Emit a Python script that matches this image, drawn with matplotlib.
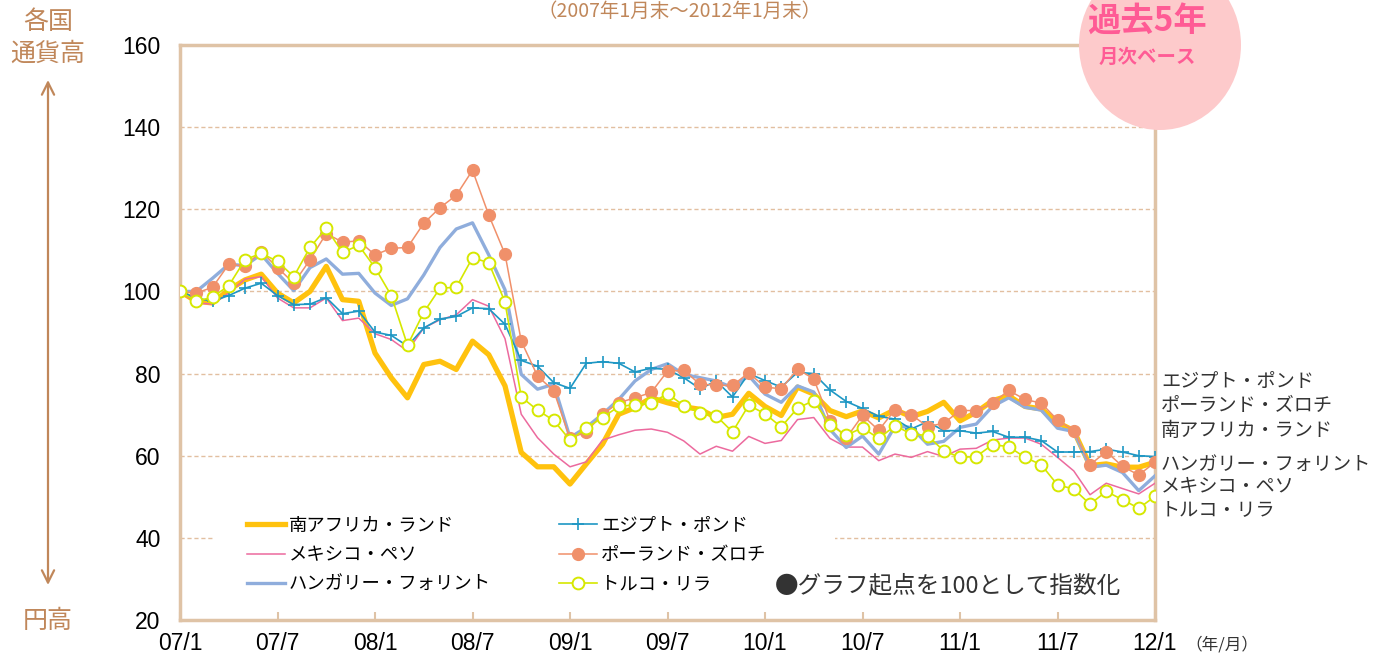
import numpy as np
import matplotlib
matplotlib.use("Agg")
import matplotlib.pyplot as plt
from matplotlib.patches import Ellipse, Rectangle

plt.rcParams['font.family'] = ['Liberation Sans', 'Noto Sans CJK JP', 'DejaVu Sans']
JP = ['Noto Sans CJK JP', 'DejaVu Sans']

# monthly end values, index (2007/1 = 100)
tick_labels = ["07/1", "07/7", "08/1", "08/7", "09/1", "09/7",
               "10/1", "10/7", "11/1", "11/7", "12/1"]

zar = [100, 97.6, 97.2, 100.4, 102.8, 104.2, 99.6, 97.2, 100, 106.1,
       98, 97.6, 85, 79, 74.1, 82.2, 83, 81, 87.9, 84.6,
       77, 60.8, 57.3, 57.3, 53.1, 58, 62.8, 70.1, 71.7, 74.1,
       72.9, 71.9, 71.3, 69.3, 70.1, 75.2, 72, 69.8, 76.7, 75,
       71, 69.5, 70.9, 69.2, 71.2, 69.5, 70.8, 73, 68.5, 70.6,
       73.4, 74.6, 72, 71.4, 68.1, 66.1, 57.6, 58, 57.2, 57.2, 58.4]
mxn = [100, 97.2, 96.9, 99.6, 103, 103.6, 98.4, 96, 96, 98.4,
       92.9, 93.5, 89.7, 88.3, 85.5, 91.1, 93.1, 94.3, 98, 96.4,
       88.5, 70.1, 64.4, 60.4, 57.3, 58.5, 63.8, 65.1, 66.2, 66.5,
       65.7, 63.6, 60.4, 62.3, 61.1, 64.7, 63, 63.7, 68.8, 69.3,
       64.2, 62.1, 62.1, 58.8, 60.4, 59.6, 61, 59.8, 61.6, 61.8,
       63.8, 64.3, 64.3, 62.8, 59.6, 56.3, 50.5, 53.3, 52, 50.7, 53.3]
huf = [100, 100, 103.2, 106.6, 106.3, 109, 104.4, 100.2, 105.8, 107.9,
       104.2, 104.4, 99.6, 96.6, 98.2, 104, 110.7, 115.2, 116.7, 108.9,
       100.4, 79.8, 76.2, 77.4, 64.4, 66.9, 70.1, 73.7, 78.2, 81,
       82.4, 79.8, 79, 78.2, 76.6, 79.5, 75, 73, 77, 75.5,
       66.4, 62, 64.8, 60.4, 67.2, 66.9, 62.8, 63.5, 66.9, 67.7,
       72, 74.1, 71.8, 71.1, 66.7, 65.9, 57.2, 57.7, 55.9, 51.5, 55.1]
egp = [100, 98.4, 97.6, 99, 100.8, 102, 99, 96.8, 96.9, 98.5,
       94.6, 95.2, 90.1, 89.3, 86.7, 91.1, 93.3, 93.9, 96, 95.8,
       92, 83.2, 81.8, 77.8, 76.4, 82.5, 82.9, 82.5, 80.4, 81.3,
       81, 79, 76.3, 78.2, 74.3, 80, 78.3, 76.7, 80.3, 80,
       76, 73.2, 71.5, 69.6, 68.9, 66.5, 68.3, 66.1, 66.1, 65.5,
       65.9, 64.5, 64.5, 63.7, 60.9, 60.9, 61, 61.6, 60.9, 60, 59.8]
pln = [100, 99.6, 101, 106.6, 106.2, 109.7, 105.8, 102, 107.7, 114.1,
       112, 112.3, 108.9, 110.5, 110.7, 116.6, 120.4, 123.4, 129.5, 118.6,
       109.1, 87.9, 79.4, 75.8, 64.2, 65.8, 70.1, 72.9, 74.1, 75.4,
       80.6, 80.8, 77.4, 77.2, 77.1, 80.2, 76.7, 76.3, 81.1, 78.7,
       68.5, 64.3, 69.8, 66.2, 71.2, 70, 67.1, 67.9, 71, 71,
       72.8, 75.9, 73.7, 72.8, 68.7, 66.1, 57.8, 61, 57.4, 55.3, 58.4]
try_ = [100, 97.6, 98.6, 101.4, 107.7, 109.3, 107.3, 103.6, 110.7, 115.4,
        109.5, 111.2, 105.8, 99, 86.9, 94.9, 100.8, 101, 108.2, 107,
        97.4, 74.3, 71.1, 68.6, 63.8, 66.7, 69.3, 72, 72.4, 72.8,
        75.1, 72.2, 70.4, 69.7, 65.8, 72.3, 70.2, 67, 71.6, 73.4,
        67.5, 65, 66.8, 64.2, 67.3, 65.3, 64.9, 61.2, 59.6, 59.8,
        62.7, 62.2, 59.6, 57.8, 52.9, 51.9, 48.2, 51.3, 49.3, 47.2, 50.1]

months = np.arange(len(zar))
tan = '#DFC3A6'
brown = '#C0875A'

fig = plt.figure(figsize=(13.75, 6.6), dpi=100)
ax = fig.add_axes([180/1375, 40/660, 975/1375, 575/660])

ax.plot(months, zar, color='#FFC20E', lw=3.8, label='南アフリカ・ランド', zorder=3)
ax.plot(months, mxn, color='#EC6A9E', lw=1.1, label='メキシコ・ペソ', zorder=3)
ax.plot(months, huf, color='#8FADDC', lw=2.4, label='ハンガリー・フォリント', zorder=3)
ax.plot(months, egp, color='#1E97C4', lw=1.2, marker='+', ms=8, mew=1.2,
        label='エジプト・ポンド', zorder=4)
ax.plot(months, pln, color='#F0906A', lw=1.1, marker='o', ms=8.5, mec='#F0906A',
        label='ポーランド・ズロチ', zorder=5)
ax.plot(months, try_, color='#D6E800', lw=1.2, marker='o', ms=8.5, mfc='white',
        mec='#D6E800', mew=1.4, label='トルコ・リラ', zorder=6)

ax.set_xlim(0, 60)
ax.set_ylim(20, 160)
ax.set_xticks(np.arange(0, 61, 6))
ax.set_xticklabels(tick_labels)
ax.set_yticks(np.arange(20, 161, 20))
ax.tick_params(axis='x', direction='in', length=6, width=1.5, color=tan,
               labelsize=16.5, pad=9)
ax.tick_params(axis='y', length=0, labelsize=16.5, pad=14)
for s in ax.spines.values():
    s.set_color(tan)
    s.set_linewidth(2.5)
for v in range(40, 141, 20):
    ax.axhline(v, color='#E2BFA0', lw=1, ls=(0, (3, 2)), zorder=1)

# white box behind the legend block (hides the grid there)
ax.add_patch(Rectangle((215/1375, 1 - 603/660), 620/1375, 95/660,
                       transform=fig.transFigure, facecolor='white',
                       edgecolor='none', zorder=2))

leg = ax.legend(ncol=2, loc='upper left', bbox_to_anchor=(232/1375, 1 - 502/660),
                bbox_transform=fig.transFigure, prop={'family': JP, 'size': 13.2},
                handlelength=2.1, handletextpad=0.2, columnspacing=3.7,
                labelspacing=0.62, borderpad=0.3, frameon=True, fancybox=False)
leg.get_frame().set_facecolor('white')
leg.get_frame().set_edgecolor('none')
leg.get_frame().set_alpha(1)
leg.set_zorder(7)

fig.text(775/1375, 1 - 586/660, '●グラフ起点を100として指数化', family=JP,
         fontsize=17, color='#333333', va='center', ha='left')

right_labels = ['エジプト・ポンド', 'ポーランド・ズロチ', '南アフリカ・ランド',
                'ハンガリー・フォリント', 'メキシコ・ペソ', 'トルコ・リラ']
for lab, yy in zip(right_labels, [381, 405, 430, 464, 487, 510]):
    fig.text(1161/1375, 1 - yy/660, lab, family=JP, fontsize=13.8,
             color='#333333', va='center', ha='left')

fig.text(1222/1375, 1 - 645/660, '（年/月）', family=JP, fontsize=12,
         color='#333333', va='center', ha='center')

fig.text(680/1375, 1 - 1/660, '（2007年1月末～2012年1月末）', family=JP,
         fontsize=14, color=brown, va='top', ha='center')

fig.text(48/1375, 1 - 22/660, '各国', family=JP, fontsize=18, color=brown,
         va='center', ha='center')
fig.text(48/1375, 1 - 54/660, '通貨高', family=JP, fontsize=18, color=brown,
         va='center', ha='center')
fig.text(48/1375, 1 - 621/660, '円高', family=JP, fontsize=18, color=brown,
         va='center', ha='center')
ax.annotate('', xy=(48/1375, 1 - 80/660), xytext=(48/1375, 1 - 585/660),
            xycoords='figure fraction', textcoords='figure fraction',
            arrowprops=dict(arrowstyle='<->', color=brown, lw=1.6,
                            mutation_scale=22, shrinkA=0, shrinkB=0))

circ = Ellipse((1160/1375, 1 - 45/660), 162/1375, 170/660, transform=fig.transFigure,
               facecolor='#FDCACB', edgecolor='none', zorder=10)
fig.add_artist(circ)
fig.text(1147/1375, 1 - 21/660, '過去5年', family=JP, fontsize=24, fontweight='bold',
         color='#FF5B95', va='center', ha='center', zorder=11)
fig.text(1147/1375, 1 - 57/660, '月次ベース', family=JP, fontsize=14, fontweight='bold',
         color='#FF5B95', va='center', ha='center', zorder=11)

fig.savefig('out.png', dpi=100)
